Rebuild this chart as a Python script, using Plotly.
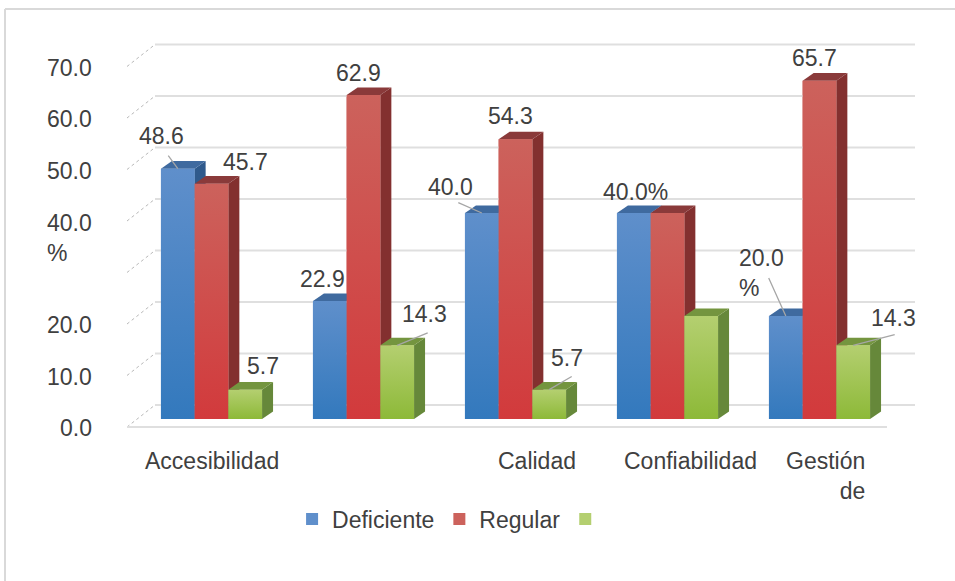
import plotly.graph_objects as go

# Series values per dimension (percent)
categories = ["Accesibilidad", "", "Calidad", "Confiabilidad", "Gestión<br>de"]
deficiente = [48.6, 22.9, 40.0, 40.0, 20.0]
regular = [45.7, 62.9, 54.3, 40.0, 65.7]
tercero = [5.7, 14.3, 5.7, 20.0, 14.3]
series_names = ["Deficiente", "Regular", " "]
y_ticks = [0, 10, 20, 30, 40, 50, 60, 70]
y_tick_labels = ["0.0", "10.0", "20.0", "", "40.0<br>%", "50.0", "60.0", "70.0"]

W, H = 955, 581
PX_X = 152.0      # pixels per category
PX_Y = 5.15       # pixels per percentage point
X0_PX = 211.5     # centre of the first cluster
Y0_PX = 419.0     # baseline of the bars
BAR_W = 33.7 / PX_X
DEPTH_X = 11.0 / PX_X
DEPTH_Y = 7.6 / PX_Y
TEXT = "#404040"
FONT = "Liberation Sans, Arial, sans-serif"
SIZE = 23

values = [deficiente, regular, tercero]
palette = [
    dict(top="#3f6a9f", side="#2f5a8c", upper="#5f8fcb", lower="#3379bd"),
    dict(top="#8a3a3a", side="#83302f", upper="#cc625c", lower="#d23a3c"),
    dict(top="#74953f", side="#66883a", upper="#b4cf70", lower="#8db938"),
]

fig = go.Figure()


def polygon(xs, ys, color, gradient=None):
    fig.add_trace(go.Scatter(
        x=xs + xs[:1], y=ys + ys[:1], mode="lines", fill="toself",
        fillcolor=color, fillgradient=gradient, line=dict(width=0),
        showlegend=False, hoverinfo="skip",
    ))


def rule(xs, ys, color, width, dash="solid"):
    fig.add_trace(go.Scatter(
        x=xs, y=ys, mode="lines", line=dict(color=color, width=width, dash=dash),
        showlegend=False, hoverinfo="skip",
    ))


# Legend entries and the base of each front face
for s, name in enumerate(series_names):
    fig.add_trace(go.Bar(
        x=[i + (s - 1) * BAR_W for i in range(len(categories))],
        y=values[s], width=BAR_W, name=name,
        marker=dict(color=palette[s]["upper"], line=dict(width=0)),
        hoverinfo="skip",
    ))

# Walls: back gridlines, dashed side wall ticks, floor edge
BACK_L = (155 - X0_PX) / PX_X
BACK_R = (915 - X0_PX) / PX_X
FRONT_L = (127 - X0_PX) / PX_X
FRONT_R = (887 - X0_PX) / PX_X
BACK_DY = 14 / PX_Y
FRONT_DY = -8 / PX_Y
for t in y_ticks:
    rule([BACK_L, BACK_R], [t + BACK_DY, t + BACK_DY], "#dfdfdf", 2)
    rule([FRONT_L, BACK_L], [t + FRONT_DY, t + BACK_DY], "#b8b8b8", 1, "dot")
rule([FRONT_L, FRONT_R], [FRONT_DY, FRONT_DY], "#dfdfdf", 2)

# 3D columns, painted from left to right so nearer faces hide the previous side
for i in range(len(categories)):
    for s, vals in enumerate(values):
        v = vals[i]
        c = palette[s]
        left = i + (s - 1.5) * BAR_W
        right = left + BAR_W
        polygon([right, right + DEPTH_X, right + DEPTH_X, right],
                [0, DEPTH_Y, v + DEPTH_Y, v], c["side"])
        polygon([left, right, right + DEPTH_X, left + DEPTH_X],
                [v, v, v + DEPTH_Y, v + DEPTH_Y], c["top"])
        polygon([left, right, right, left], [0, 0, v, v], c["upper"],
                gradient=dict(type="vertical", start=0, stop=v,
                              colorscale=[[0, c["lower"]], [1, c["upper"]]]))

annotations = []

# Value labels: (series, category, text, x offset, y offset)
value_labels = [
    (0, 0, "48.6", -16, -33), (1, 0, "45.7", 34, -22), (2, 0, "5.7", 18, -24),
    (0, 1, "22.9", -7, -22), (1, 1, "62.9", -5, -22), (2, 1, "14.3", 27, -31),
    (0, 2, "40.0", -31, -26), (1, 2, "54.3", -5, -23), (2, 2, "5.7", 18, -32),
    (0, 3, "40.0%", 2, -21),
    (0, 4, "20.0<br>%", -24, -43), (1, 4, "65.7", -5, -23), (2, 4, "14.3", 40, -27),
]
for s, i, text, dx, dy in value_labels:
    annotations.append(dict(
        x=i + (s - 1) * BAR_W, y=values[s][i], text=text, align="left",
        font=dict(family=FONT, size=SIZE, color=TEXT),
        showarrow=False, xshift=dx, yshift=-dy,
    ))

# Leader lines from a label towards its column: (series, category, x offset, y offset)
leaders = [
    (0, 0, -11, -15), (2, 1, 32, -13), (0, 2, -25, -11),
    (2, 2, 24, -14), (0, 4, -18, -40), (2, 4, 43, -11),
]
for s, i, dx, dy in leaders:
    annotations.append(dict(
        x=i + (s - 1) * BAR_W, y=values[s][i], text=" ", font=dict(size=1),
        showarrow=True, arrowhead=0, arrowwidth=1.3, arrowcolor="#a6a6a6",
        ax=dx, ay=dy, standoff=0,
    ))

# Value axis labels sit on the front edge of the side wall
for t, label in zip(y_ticks, y_tick_labels):
    if label:
        annotations.append(dict(
            xref="paper", x=94 / W, y=t, text=label, showarrow=False,
            xanchor="right", align="left", yanchor="middle",
            yshift=-25 if "<br>" in label else -9,
            font=dict(family=FONT, size=SIZE, color=TEXT),
        ))

# Category labels below the floor
category_shift = [0, 0, 21, 23, 6]
for i, label in enumerate(categories):
    if label:
        annotations.append(dict(
            x=i, xshift=category_shift[i], yref="paper", y=(H - 446) / H, text=label,
            showarrow=False, yanchor="top", align="right",
            font=dict(family=FONT, size=SIZE, color=TEXT),
        ))

# Chart area border: only the top and left edges are visible
border = [
    dict(type="line", xref="paper", yref="paper", x0=5 / W, x1=1, y0=(H - 9) / H, y1=(H - 9) / H,
         line=dict(color="#d9d9d9", width=2)),
    dict(type="line", xref="paper", yref="paper", x0=5 / W, x1=5 / W, y0=0, y1=(H - 9) / H,
         line=dict(color="#d9d9d9", width=2)),
]

fig.update_layout(
    width=W, height=H, margin=dict(l=0, r=0, t=0, b=0),
    paper_bgcolor="white", plot_bgcolor="white",
    barmode="overlay", hovermode=False,
    xaxis=dict(range=[-X0_PX / PX_X, (W - X0_PX) / PX_X], visible=False, fixedrange=True),
    yaxis=dict(range=[(Y0_PX - H) / PX_Y, Y0_PX / PX_Y], visible=False, fixedrange=True),
    annotations=annotations, shapes=border,
    legend=dict(orientation="h", x=0.476, xanchor="center", y=(H - 519) / H, yanchor="middle",
                font=dict(family=FONT, size=SIZE, color=TEXT), bgcolor="rgba(0,0,0,0)",
                itemclick=False, itemdoubleclick=False),
    font=dict(family=FONT, size=SIZE, color=TEXT),
)

fig.write_html("out.html", config=dict(displayModeBar=False))
